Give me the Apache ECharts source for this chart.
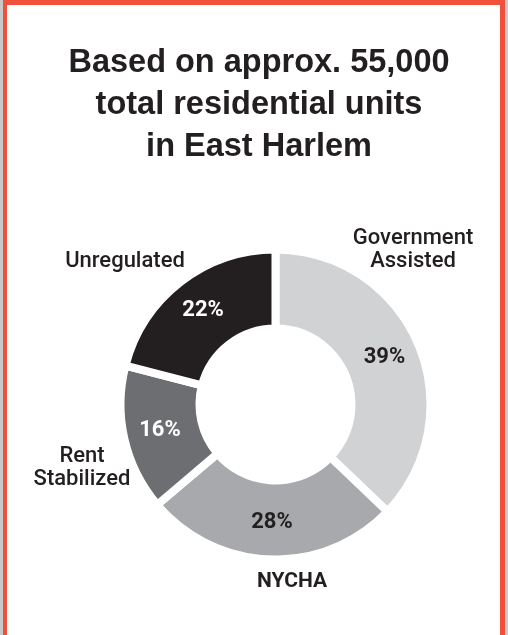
<!DOCTYPE html>
<html>
<head>
<meta charset="utf-8">
<script src="https://cdn.jsdelivr.net/npm/echarts@6/dist/echarts.min.js"></script>
<style>
  html, body { margin: 0; padding: 0; width: 508px; height: 635px; overflow: hidden; background: #c9c9c9; }
  #frame { position: absolute; left: 3px; top: 0; width: 493px; height: 640px; background: #ffffff;
           border-left: 4px solid #f0513a; border-right: 5px solid #f0513a; border-top: 5px solid #f0513a; }
  #chart { position: absolute; left: 0; top: 0; width: 508px; height: 635px; }
</style>
</head>
<body>
<div id="frame"></div>
<div id="chart"></div>
<script>
// ---- data ----
const titleLines = ['Based on approx. 55,000', 'total residential units', 'in East Harlem'];
const categories = ['Government\nAssisted', 'NYCHA', 'Rent\nStabilized', 'Unregulated'];
const shares = [39, 28, 16, 22];

// ---- styles ----
const sliceColors = ['#d1d2d4', '#a7a9ac', '#6d6e71', '#231f20'];
const pctColors = ['#231f20', '#231f20', '#ffffff', '#ffffff'];
const nameWeights = [500, 'bold', 500, 500];
const nameSizes = [22, 21, 22, 22];
// label anchor points (layout only)
const nameAnchors = [[413, 250], [292, 582], [82, 468], [125, 261]];

const chart = echarts.init(document.getElementById('chart'), null, { renderer: 'canvas' });

const pctData = categories.map((c, i) => ({
  name: c,
  value: shares[i],
  itemStyle: { color: sliceColors[i] },
  label: { color: pctColors[i] }
}));
const nameData = categories.map((c, i) => ({
  name: c,
  value: shares[i],
  label: { fontWeight: nameWeights[i], fontSize: nameSizes[i] }
}));

chart.setOption({
  animation: false,
  backgroundColor: 'transparent',
  title: {
    text: titleLines.join('\n'),
    left: 254,
    top: 37,
    textAlign: 'center',
    textStyle: {
      fontFamily: 'Liberation Sans',
      fontWeight: 'bold',
      fontSize: 32.5,
      lineHeight: 42,
      color: '#231f20'
    }
  },
  series: [
    {
      type: 'pie',
      center: [275.5, 404.5],
      radius: [76, 155],
      startAngle: 90,
      clockwise: true,
      silent: true,
      itemStyle: { borderColor: '#ffffff', borderWidth: 8 },
      label: {
        show: true,
        position: 'inside',
        formatter: '{c}%',
        fontFamily: 'Roboto',
        fontWeight: 'bold',
        fontSize: 22
      },
      labelLine: { show: false },
      emphasis: { disabled: true },
      data: pctData
    },
    {
      type: 'pie',
      center: [275.5, 404.5],
      radius: [76, 155],
      startAngle: 90,
      clockwise: true,
      silent: true,
      itemStyle: { color: 'transparent', borderWidth: 0 },
      label: {
        show: true,
        position: 'outside',
        alignTo: 'none',
        overflow: 'none',
        formatter: '{b}',
        fontFamily: 'Roboto',
        fontSize: 22,
        lineHeight: 23,
        color: '#231f20',
        align: 'center'
      },
      labelLine: { show: false },
      labelLayout: function (p) {
        const a = nameAnchors[p.dataIndex];
        return { x: a[0], y: a[1], align: 'center', verticalAlign: 'middle' };
      },
      emphasis: { disabled: true },
      data: nameData
    }
  ]
});
</script>
</body>
</html>
